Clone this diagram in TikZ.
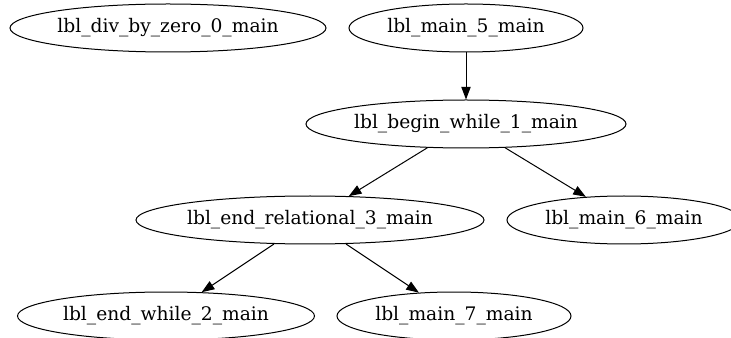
\documentclass[tikz,border=0pt]{standalone}
\usepackage{fontspec}
\setmainfont{DejaVu Serif}
\usetikzlibrary{shapes.geometric,arrows.meta}
\begin{document}
\begin{tikzpicture}[x=0.75pt,y=-0.75pt,
  gnode/.style={draw,ellipse,inner sep=0pt,minimum height=36pt,line width=0.75pt,font=\fontsize{14pt}{16pt}\selectfont},
  gedge/.style={draw,line width=0.75pt,-{Triangle[length=9.5pt,width=7pt]}}]
\useasboundingbox (0,0) rectangle (731,338);
\clip (0,0) rectangle (731,338);
\node[gnode,minimum width=237pt] (dz) at (168,28) {lbl\_div\_by\_zero\_0\_main};
\node[gnode,minimum width=175.5pt] (m5) at (466,28) {lbl\_main\_5\_main};
\node[gnode,minimum width=240pt] (bw) at (466,124) {lbl\_begin\_while\_1\_main};
\node[gnode,minimum width=261pt] (er) at (310,220) {lbl\_end\_relational\_3\_main};
\node[gnode,minimum width=175.5pt] (m6) at (624,220) {lbl\_main\_6\_main};
\node[gnode,minimum width=222.75pt] (ew) at (166,316) {lbl\_end\_while\_2\_main};
\node[gnode,minimum width=175.5pt] (m7) at (454,316) {lbl\_main\_7\_main};
\draw[gedge] (m5) -- (bw);
\draw[gedge] (bw) -- (er);
\draw[gedge] (bw) -- (m6);
\draw[gedge] (er) -- (ew);
\draw[gedge] (er) -- (m7);
\end{tikzpicture}
\end{document}
